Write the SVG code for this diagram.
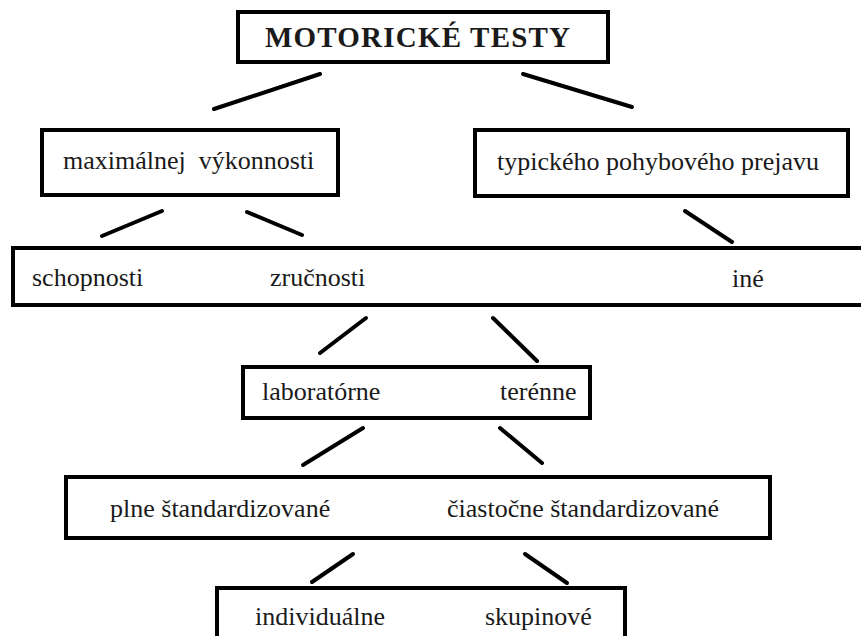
<svg xmlns="http://www.w3.org/2000/svg" width="861" height="636" viewBox="0 0 861 636">
<style>
.box{fill:#fff;stroke:#000;stroke-width:4}
.t{font-size:26px;fill:#1a1a1a;white-space:pre}
.b{font-weight:bold;font-size:29px}
.c line{stroke:#000;stroke-width:4;stroke-linecap:round}
</style>
<rect width="861" height="636" fill="#fff"/>
<g id="connectors" class="c">
<line x1="320" y1="74" x2="214" y2="109"/>
<line x1="523" y1="74" x2="632" y2="107"/>
<line x1="162" y1="211" x2="102" y2="236"/>
<line x1="247" y1="212" x2="302" y2="235"/>
<line x1="685" y1="211" x2="732" y2="242"/>
<line x1="366" y1="318" x2="320" y2="353"/>
<line x1="493" y1="318" x2="537" y2="361"/>
<line x1="363" y1="428" x2="303" y2="465"/>
<line x1="500" y1="428" x2="542" y2="463"/>
<line x1="353" y1="554" x2="312" y2="582"/>
<line x1="525" y1="554" x2="567" y2="583"/>
</g>
<g font-family="Liberation Serif, Times New Roman, DejaVu Serif, serif">
<g id="motoricke-testy">
<rect class="box" x="238" y="12" width="370" height="50"/>
<text class="t b" x="265" y="47" textLength="305">MOTORICKÉ TESTY</text>
</g>
<g id="maximalnej-vykonnosti">
<rect class="box" x="42" y="130" width="296" height="65"/>
<text class="t" x="63" y="169">maximálnej  výkonnosti</text>
</g>
<g id="typickeho-pohyboveho-prejavu">
<rect class="box" x="475" y="130" width="373" height="66"/>
<text class="t" x="497" y="170">typického pohybového prejavu</text>
</g>
<g id="schopnosti-zrucnosti-ine">
<rect class="box" x="13" y="248" width="870" height="57"/>
<text class="t" x="32" y="286">schopnosti</text>
<text class="t" x="270" y="286">zručnosti</text>
<text class="t" x="732" y="287">iné</text>
</g>
<g id="laboratorne-terenne">
<rect class="box" x="243" y="367" width="347" height="51"/>
<text class="t" x="262" y="400">laboratórne</text>
<text class="t" x="500" y="400">terénne</text>
</g>
<g id="standardizovane">
<rect class="box" x="66" y="477" width="704" height="61"/>
<text class="t" x="110" y="517">plne štandardizované</text>
<text class="t" x="447" y="517">čiastočne štandardizované</text>
</g>
<g id="individualne-skupinove">
<rect class="box" x="217" y="588" width="408" height="70"/>
<text class="t" x="255" y="625">individuálne</text>
<text class="t" x="485" y="625">skupinové</text>
</g>
</g>
</svg>
